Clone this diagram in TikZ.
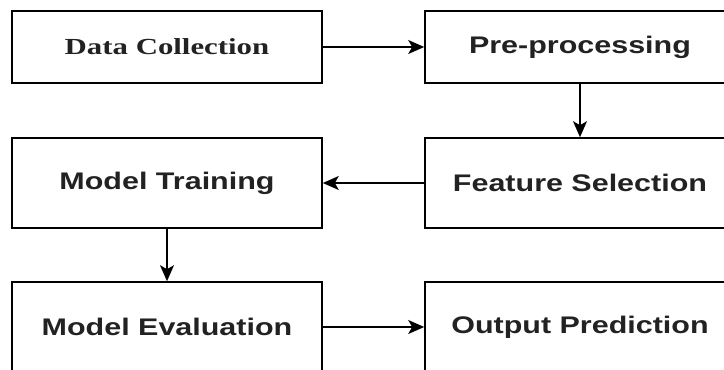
\documentclass[tikz,border=0pt]{standalone}
\usepackage{fontspec}
\usepackage{graphicx}
\usetikzlibrary{arrows.meta}
\newfontfamily\sansbold{Liberation Sans}
\newfontfamily\serifbold{Liberation Serif}
\definecolor{txt}{HTML}{222222}
\tikzset{
  box/.style={draw=black, line width=1.6pt, rectangle, minimum width=310pt, inner sep=0pt, fill=white},
  conn/.style={line width=1.5pt, -{Stealth[length=16pt,width=14pt,inset=4pt]}},
}
\newcommand{\sanstxt}[1]{\scalebox{1.27}[1]{\fontsize{24}{24}\sansbold\bfseries\color{txt}#1}}
\newcommand{\seriftxt}[1]{\scalebox{1.34}[1]{\fontsize{23}{23}\serifbold\bfseries\color{txt}#1}}
\begin{document}
\begin{tikzpicture}[x=1pt,y=-1pt]
\useasboundingbox (0,0) rectangle (724,370);
\clip (0,0) rectangle (724,370);
\node[box, minimum height=72pt] (dc) at (167,47) {\seriftxt{Data Collection}};
\node[box, minimum height=72pt] (pp) at (580,47) {\sanstxt{Pre-processing}};
\node[box, minimum height=90pt] (fs) at (580,183) {\sanstxt{Feature Selection}};
\node[box, minimum height=90pt] (mt) at (167,183) {\sanstxt{Model Training}};
\node[box, minimum height=90pt] (me) at (167,327) {\sanstxt{Model Evaluation}};
\node[box, minimum height=90pt] (op) at (580,327) {\sanstxt{Output Prediction}};
\draw[conn] (dc) -- (pp);
\draw[conn] (pp) -- (fs);
\draw[conn] (fs) -- (mt);
\draw[conn] (mt) -- (me);
\draw[conn] (me) -- (op);
\end{tikzpicture}
\end{document}
